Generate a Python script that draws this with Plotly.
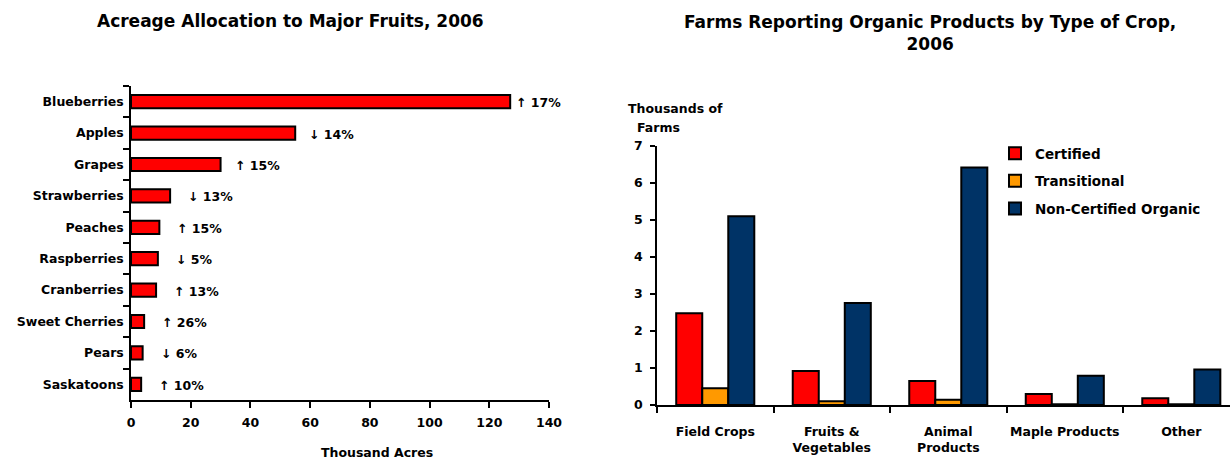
import plotly.graph_objects as go

# Left chart data
fruits = ["Blueberries", "Apples", "Grapes", "Strawberries", "Peaches",
          "Raspberries", "Cranberries", "Sweet Cherries", "Pears", "Saskatoons"]
acres = [127, 55, 30, 13.1, 9.5, 9.0, 8.4, 4.4, 3.9, 3.4]
changes = ["↑ 17%", "↓ 14%", "↑ 15%", "↓ 13%", "↑ 15%",
           "↓ 5%", "↑ 13%", "↑ 26%", "↓ 6%", "↑ 10%"]
x_ticks = [0, 20, 40, 60, 80, 100, 120, 140]

# Right chart data
crop_types = ["Field Crops", "Fruits &<br>Vegetables", "Animal<br>Products",
              "Maple Products", "Other"]
certified = [2.48, 0.92, 0.65, 0.30, 0.18]
transitional = [0.45, 0.10, 0.14, 0.02, 0.02]
non_certified = [5.1, 2.76, 6.42, 0.79, 0.96]
y_ticks = [0, 1, 2, 3, 4, 5, 6, 7]

FONT = "DejaVu Sans"
W, H = 1230, 459


def bold(size):
    return dict(family=FONT, size=size, color="black", weight="bold")


def px(x):
    return x / W


def py(y):
    return 1 - y / H


fig = go.Figure()

fig.add_trace(go.Bar(
    y=fruits, x=acres, orientation="h", width=0.42,
    marker=dict(color="#ff0000", line=dict(color="black", width=2)),
    xaxis="x", yaxis="y", showlegend=False, hoverinfo="skip"))

for f, v, c in zip(fruits, acres, changes):
    shift = 4 if v > 100 else (12 if v > 20 else 16)
    fig.add_annotation(x=v, y=f, xref="x", yref="y", text=c, showarrow=False,
                       xanchor="left", xshift=shift, yshift=-1,
                       font=bold(12.5))

series = [("Certified", certified, "#ff0000"),
          ("Transitional", transitional, "#ff9900"),
          ("Non-Certified Organic", non_certified, "#003366")]
for name, vals, col in series:
    fig.add_trace(go.Bar(
        x=crop_types, y=vals, name=name, legendgroup=name,
        marker=dict(color=col, line=dict(color="black", width=2)),
        xaxis="x2", yaxis="y2", hoverinfo="skip"))

axis_common = dict(showgrid=False, zeroline=False, showline=True,
                   linecolor="black", linewidth=1.5, ticks="outside",
                   tickcolor="black", tickwidth=1.5, automargin=False)

fig.update_layout(
    template="none",
    width=W, height=H,
    margin=dict(l=0, r=0, t=0, b=0, pad=0),
    paper_bgcolor="white", plot_bgcolor="white",
    font=bold(12),
    barmode="group", bargap=0.33, bargroupgap=0,
    xaxis=dict(domain=[px(131), px(549)], range=[0, 140], tickvals=x_ticks,
               ticklen=6, tickfont=bold(12.5), ticklabelstandoff=4,
               tickangle=0, anchor="y", **axis_common),
    yaxis=dict(domain=[py(400), py(86)], autorange="reversed",
               categoryorder="array", categoryarray=fruits,
               tickson="boundaries", ticklen=6, tickfont=bold(12.5),
               ticklabelstandoff=3, anchor="x", **axis_common),
    xaxis2=dict(domain=[px(657), 1.0], range=[-0.5, 4.418],
                tickson="boundaries", ticklen=6, tickfont=bold(12.5),
                ticklabelstandoff=14, tickangle=0, anchor="y2",
                **axis_common),
    yaxis2=dict(domain=[py(405), py(146)], range=[0, 7], tickvals=y_ticks,
                ticklen=5, tickfont=bold(12.5), ticklabelstandoff=5,
                anchor="x2", **axis_common),
    legend=dict(x=px(995), y=py(138), xanchor="left", yanchor="top",
                bgcolor="rgba(0,0,0,0)", tracegroupgap=7,
                font=bold(13.5)),
)

fig.add_annotation(x=px(290), y=py(21), xref="paper", yref="paper",
                   text="Acreage Allocation to Major Fruits, 2006",
                   showarrow=False, xanchor="center", yanchor="middle",
                   font=bold(17))
fig.add_annotation(x=px(930), y=py(33), xref="paper", yref="paper",
                   text="Farms Reporting Organic Products by Type of Crop,<br>2006",
                   showarrow=False, xanchor="center", yanchor="middle",
                   font=bold(17))
fig.add_annotation(x=px(377), y=py(452), xref="paper", yref="paper",
                   text="Thousand Acres", showarrow=False,
                   xanchor="center", yanchor="middle", font=bold(12.5))
fig.add_annotation(x=px(675), y=py(108), xref="paper", yref="paper",
                   text="Thousands of", showarrow=False,
                   xanchor="center", yanchor="middle", font=bold(12.5))
fig.add_annotation(x=px(658), y=py(128), xref="paper", yref="paper",
                   text="Farms", showarrow=False,
                   xanchor="center", yanchor="middle", font=bold(12.5))

fig.write_html("out.html",
               config={"displayModeBar": False},
               post_script="document.body.style.margin='0px';"
                           "document.body.style.overflow='hidden';")
